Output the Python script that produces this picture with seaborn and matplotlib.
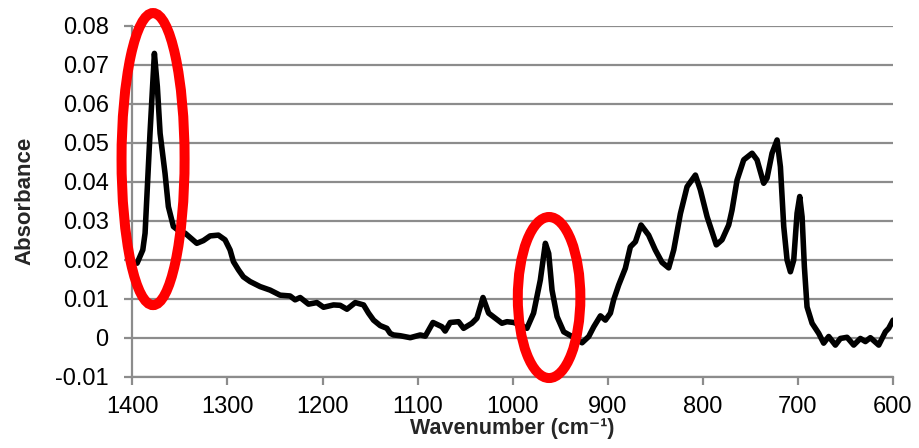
import matplotlib
matplotlib.use("Agg")
import matplotlib.pyplot as plt
from matplotlib.patches import Ellipse
import seaborn as sns
import pandas as pd

wavenumber = [1395.0, 1389.0, 1386.6, 1381.4, 1376.8, 1373.7, 1370.8, 1365.6, 1362.1, 1356.8,
              1350.0, 1344.5, 1339.3, 1332.2, 1325.3, 1318.2, 1309.5, 1302.5, 1297.2, 1293.7,
              1288.4, 1283.2, 1276.2, 1265.6, 1255.1, 1244.6, 1234.1, 1228.8, 1223.5, 1214.7,
              1205.9, 1198.9, 1188.4, 1181.4, 1174.3, 1165.6, 1156.8, 1151.6, 1146.3, 1139.3,
              1132.3, 1128.8, 1125.3, 1118.2, 1107.7, 1097.2, 1091.9, 1083.8, 1074.3, 1071.0,
              1065.7, 1056.9, 1051.6, 1042.9, 1037.6, 1031.2, 1025.3, 1018.3, 1011.3, 1006.0,
              999.0, 992.0, 985.0, 978.0, 970.9, 965.6, 962.1, 958.6, 953.3, 946.3,
              937.5, 927.0, 920.0, 914.7, 907.7, 902.5, 897.2, 893.8, 888.5, 881.5,
              876.2, 870.9, 865.0, 857.0, 850.0, 842.9, 835.9, 830.6, 823.6, 816.6,
              807.8, 802.6, 795.5, 785.8, 779.8, 772.8, 769.3, 764.0, 757.0, 748.2,
              743.0, 736.0, 732.5, 727.2, 721.9, 718.4, 714.9, 711.4, 707.9, 704.4,
              700.9, 698.1, 695.6, 693.2, 690.4, 685.1, 678.1, 672.9, 667.6, 660.6,
              655.3, 648.3, 641.3, 634.3, 629.0, 623.8, 615.0, 608.0, 604.5, 599.9]

absorbance = [0.0191, 0.0225, 0.0268, 0.0525, 0.0729, 0.0644, 0.0524, 0.0421, 0.0336, 0.0285,
              0.0272, 0.0268, 0.0257, 0.0242, 0.0249, 0.0261, 0.0263, 0.0251, 0.0225, 0.0195,
              0.0174, 0.0156, 0.0144, 0.0131, 0.0122, 0.0109, 0.0107, 0.0097, 0.0103, 0.0086,
              0.0090, 0.0078, 0.0084, 0.0083, 0.0073, 0.0090, 0.0084, 0.0063, 0.0045, 0.0031,
              0.0024, 0.0011, 0.0007, 0.0005, 0.0000, 0.0007, 0.0004, 0.0039, 0.0028, 0.0017,
              0.0039, 0.0041, 0.0024, 0.0037, 0.0050, 0.0103, 0.0063, 0.0050, 0.0037, 0.0041,
              0.0039, 0.0033, 0.0024, 0.0063, 0.0148, 0.0242, 0.0216, 0.0122, 0.0054, 0.0015,
              0.0003, -0.0013, 0.0003, 0.0028, 0.0056, 0.0045, 0.0063, 0.0097, 0.0135, 0.0178,
              0.0233, 0.0246, 0.0289, 0.0263, 0.0225, 0.0193, 0.0179, 0.0225, 0.0318, 0.0387,
              0.0417, 0.0379, 0.0310, 0.0238, 0.0251, 0.0289, 0.0327, 0.0404, 0.0456, 0.0473,
              0.0456, 0.0396, 0.0409, 0.0473, 0.0507, 0.0438, 0.0285, 0.0199, 0.0169, 0.0199,
              0.0319, 0.0362, 0.0310, 0.0182, 0.0079, 0.0037, 0.0011, -0.0014, 0.0003, -0.0019,
              -0.0002, 0.0001, -0.0019, -0.0002, -0.0010, 0.0000, -0.0019, 0.0015, 0.0024, 0.0045]

x_ticks = [1400, 1300, 1200, 1100, 1000, 900, 800, 700, 600]
y_ticks = [-0.01, 0, 0.01, 0.02, 0.03, 0.04, 0.05, 0.06, 0.07, 0.08]
y_tick_labels = ["-0.01", "0", "0.01", "0.02", "0.03", "0.04", "0.05", "0.06", "0.07", "0.08"]

# highlighted peaks: (center wavenumber, center absorbance, width, height)
highlight_centers_x = [1378.2, 961.7]
highlight_centers_y = [0.0458, 0.0103]
highlight_widths = [66.3, 65.8]
highlight_heights = [0.0749, 0.0413]

sns.set_style("white")
plt.rcParams["font.family"] = ["Liberation Sans", "DejaVu Sans"]

df = pd.DataFrame({"Wavenumber": wavenumber, "Absorbance": absorbance})

fig = plt.figure(figsize=(9.19, 4.48), dpi=100)
ax = fig.add_axes([0.144, 0.1592, 0.8277, 0.7834])

grid_color = "#8c8c8c"
ax.set_axisbelow(True)
ax.yaxis.grid(True, color=grid_color, linewidth=1.6)
ax.xaxis.grid(False)

sns.lineplot(data=df, x="Wavenumber", y="Absorbance", sort=False, color="black",
             linewidth=4.0, ax=ax, zorder=3, solid_joinstyle="round", solid_capstyle="round")

ax.set_xlim(1400, 600)
ax.set_ylim(-0.01, 0.08)
ax.set_xticks(x_ticks)
ax.set_xticklabels([str(t) for t in x_ticks])
ax.set_yticks(y_ticks)
ax.set_yticklabels(y_tick_labels)

for s in ["top", "right"]:
    ax.spines[s].set_visible(False)
for s in ["left", "bottom"]:
    ax.spines[s].set_color(grid_color)
    ax.spines[s].set_linewidth(1.6)

ax.tick_params(axis="both", which="major", length=6, width=1.6, color=grid_color,
               labelsize=17, labelcolor="black", direction="out")
ax.tick_params(axis="y", pad=11)
ax.tick_params(axis="x", pad=8)
ax.xaxis.set_ticks_position("bottom")
ax.yaxis.set_ticks_position("left")

ax.set_xlabel("Wavenumber (cm\u207b\u00b9)", fontsize=15.5, fontweight="bold", labelpad=0)
ax.set_ylabel("Absorbance", fontsize=16, fontweight="bold", labelpad=14)

for cx, cy, w, h in zip(highlight_centers_x, highlight_centers_y, highlight_widths, highlight_heights):
    e = Ellipse((cx, cy), w, h, fill=False, edgecolor="#ff0000", linewidth=7.2,
                clip_on=False, zorder=4)
    ax.add_patch(e)

fig.savefig("out.png", dpi=100)
